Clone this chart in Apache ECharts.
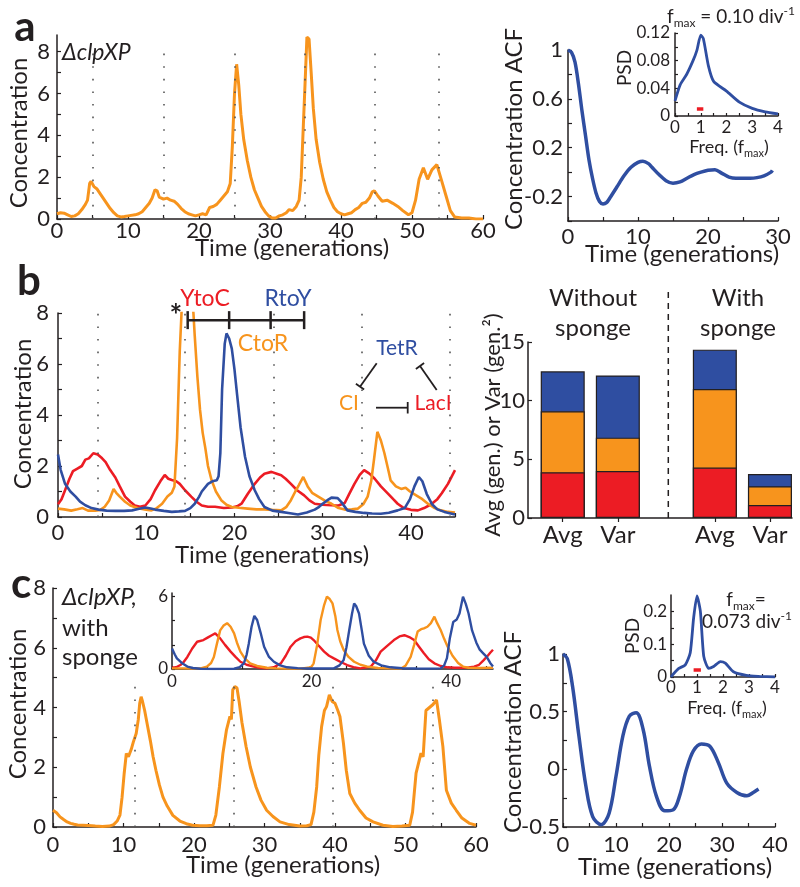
<!DOCTYPE html>
<html>
<head>
<meta charset="utf-8">
<script src="https://cdn.jsdelivr.net/npm/echarts@6/dist/echarts.min.js"></script>
<style>
  html, body { margin: 0; padding: 0; background: #fff; }
  #chart { width: 800px; height: 887px; }
</style>
</head>
<body>
<div id="chart"></div>
<script>
// ---- panel a: single clpXP trace, its ACF and PSD ----
const aTrace = [[0,0.25],[0.5,0.3],[1,0.28],[1.5,0.2],[2,0.12],[2.5,0.15],[3,0.25],[3.5,0.45],[4,0.7],[4.3,0.9],[4.6,1.7],[4.8,1.8],[5.2,1.55],[5.6,1.45],[6,1.25],[6.5,1.0],[7,0.75],[7.5,0.5],[8,0.3],[8.5,0.15],[9,0.1],[9.5,0.12],[10,0.15],[11,0.2],[11.5,0.25],[12,0.35],[12.5,0.55],[13,0.75],[13.4,1.0],[13.8,1.4],[14.1,1.35],[14.4,1.05],[15,0.95],[15.5,1.0],[16,0.9],[16.5,0.85],[17,0.7],[17.5,0.5],[18,0.35],[18.5,0.25],[19,0.2],[19.5,0.15],[20,0.2],[20.5,0.25],[21,0.2],[21.5,0.55],[22,0.6],[22.5,0.7],[23,0.9],[23.5,1.1],[24,1.3],[24.4,1.7],[24.7,3.5],[25,6.0],[25.3,7.4],[25.6,6.4],[25.9,5.0],[26.3,3.8],[26.8,2.8],[27.3,2.0],[27.8,1.4],[28.3,1.0],[28.8,0.6],[29.3,0.35],[29.8,0.15],[30.3,0.05],[30.8,0.05],[31.3,0.15],[31.8,0.2],[32.3,0.3],[32.7,0.45],[33.2,0.4],[33.7,0.6],[34.1,0.9],[34.4,2.0],[34.7,4.5],[35,7.0],[35.2,8.7],[35.5,8.6],[35.8,7.0],[36.1,5.3],[36.5,3.8],[37,2.7],[37.5,1.9],[38,1.3],[38.5,0.9],[39,0.55],[39.5,0.35],[40,0.25],[40.5,0.2],[41,0.25],[41.5,0.3],[42,0.45],[42.5,0.55],[43,0.75],[43.5,0.8],[44,1.0],[44.4,1.3],[44.7,1.35],[45.2,1.1],[45.8,0.85],[46.5,0.9],[47.3,0.75],[48,0.6],[48.7,0.4],[49.5,0.2],[50,0.3],[50.5,0.9],[51,1.9],[51.6,2.45],[52.2,1.9],[52.8,2.35],[53.5,2.6],[54.2,1.8],[54.8,1.1],[55.4,0.4],[56,0.1],[57,0.05],[58,0.05],[59,0.0],[60,0.0]];
const aPeakTimes = [5.1, 15.1, 25.1, 34.9, 44.8, 53.7];
const aAcf = [[0,1],[0.5,0.98],[1,0.9],[1.5,0.72],[2,0.5],[2.5,0.3],[3,0.1],[3.5,-0.05],[4,-0.17],[4.5,-0.24],[5,-0.26],[5.5,-0.25],[6,-0.21],[7,-0.12],[8,-0.03],[9,0.04],[10,0.08],[10.7,0.09],[11.5,0.07],[12,0.04],[13,-0.02],[14,-0.07],[15,-0.09],[16,-0.08],[17,-0.05],[18,-0.02],[19,0.0],[20,0.015],[21,0.02],[22,-0.01],[23,-0.04],[24,-0.05],[25,-0.05],[26,-0.05],[27,-0.045],[28,-0.03],[29,0.0],[29.2,0.015]];
const aPsd = [[0,0.022],[0.2,0.045],[0.45,0.06],[0.7,0.08],[0.85,0.095],[1.0,0.117],[1.1,0.112],[1.3,0.072],[1.5,0.05],[2.0,0.036],[2.5,0.02],[3.0,0.011],[3.5,0.006],[4.0,0.003]];
const aBand = [[0.85,0.01],[1.1,0.01]];

// ---- panel b: three repressors, and the bar summary ----
const bLacI = [[0,0.5],[0.4,0.7],[0.8,1.05],[1.3,1.5],[1.7,1.8],[2.2,1.9],[2.7,2.0],[3.1,2.25],[3.5,2.3],[4,2.5],[4.5,2.45],[5,2.3],[5.4,2.15],[5.9,1.85],[6.5,1.55],[7,1.2],[7.6,0.8],[8.2,0.6],[8.7,0.45],[9.3,0.4],[9.9,0.45],[10.5,0.7],[11,1.05],[11.6,1.4],[12.1,1.65],[12.5,1.5],[12.9,1.45],[13.4,1.4],[13.8,1.3],[14.4,1.05],[15.1,0.8],[15.7,0.6],[16.3,0.45],[17,0.4],[17.8,0.4],[18.8,0.35],[19.7,0.37],[20.3,0.42],[20.8,0.52],[21.5,0.9],[22.3,1.3],[22.9,1.55],[23.4,1.7],[24.2,1.77],[24.8,1.7],[25.3,1.64],[25.8,1.5],[26.4,1.3],[27.1,1.05],[27.9,0.85],[28.5,0.65],[29.1,0.52],[30,0.48],[31,0.46],[31.8,0.45],[32.5,0.55],[33,0.9],[33.6,1.3],[34.2,1.65],[34.7,1.84],[35.3,1.7],[35.9,1.5],[36.6,1.2],[37.4,0.92],[38,0.7],[38.5,0.52],[39.2,0.35],[40,0.28],[40.8,0.26],[41.5,0.35],[42.3,0.5],[43,0.7],[43.5,0.93],[44.2,1.3],[45,1.84]];
const bCI = [[0,0.33],[0.7,0.3],[1.5,0.25],[2.2,0.3],[2.8,0.35],[3.4,0.25],[4.2,0.25],[4.8,0.28],[5.3,0.4],[5.8,0.65],[6.3,1.1],[6.6,0.95],[7,0.8],[7.6,0.6],[8.2,0.45],[9,0.35],[9.8,0.3],[10.6,0.26],[11.2,0.35],[11.8,0.52],[12.4,0.8],[12.9,0.95],[13.2,1.2],[13.5,3.1],[13.8,6.5],[14.0,8.0],[14.3,9.8],[14.7,10.3],[15.1,9.2],[15.35,8.0],[15.5,7.1],[15.8,5.5],[16.1,4.2],[16.4,3.3],[16.7,2.7],[17,2.0],[17.4,1.45],[17.9,1.0],[18.5,0.66],[19.1,0.48],[19.7,0.39],[20.5,0.36],[21.5,0.33],[22.5,0.3],[23.4,0.3],[24.3,0.28],[25.3,0.26],[25.9,0.4],[26.4,0.66],[26.9,1.0],[27.3,1.25],[27.8,1.57],[28.3,1.2],[28.8,0.95],[29.5,0.8],[30.2,0.65],[31,0.52],[31.8,0.35],[32.5,0.29],[33.3,0.3],[34,0.33],[34.6,0.5],[35.1,0.8],[35.5,1.4],[35.8,2.2],[36.2,3.34],[36.6,3.0],[37,2.5],[37.4,1.9],[37.7,1.44],[38.3,1.2],[38.9,1.1],[39.4,1.15],[39.9,1.0],[40.6,0.85],[41.3,0.7],[42,0.5],[42.7,0.35],[43.4,0.26],[44.2,0.2],[45,0.17]];
const bTetR = [[0,2.45],[0.3,1.85],[0.8,1.3],[1.4,1.0],[2,0.8],[2.5,0.6],[3.1,0.46],[3.8,0.35],[4.6,0.29],[5.5,0.25],[6.5,0.24],[7.5,0.24],[8.4,0.26],[9.2,0.32],[9.9,0.37],[10.5,0.33],[11,0.29],[12,0.24],[12.9,0.2],[13.7,0.22],[14.4,0.24],[15,0.35],[15.5,0.52],[16,0.8],[16.3,1.0],[17,1.3],[17.5,1.4],[18,1.44],[18.2,1.6],[18.4,2.5],[18.6,5.0],[18.9,6.8],[19.1,7.2],[19.4,7.0],[19.7,6.6],[20,5.8],[20.3,4.8],[20.7,3.5],[21.2,2.36],[21.7,1.6],[22.3,1.05],[22.8,0.7],[23.4,0.39],[24.3,0.25],[25.3,0.2],[26.3,0.15],[27.2,0.1],[28.2,0.18],[29.1,0.29],[29.6,0.4],[30,0.52],[30.5,0.65],[31,0.76],[31.7,0.74],[32.2,0.55],[32.8,0.26],[33.7,0.2],[34.7,0.16],[35.6,0.14],[36.6,0.13],[37.5,0.17],[38.5,0.26],[39.3,0.35],[39.9,0.7],[40.4,1.2],[40.9,1.57],[41.3,1.4],[41.8,0.9],[42.4,0.5],[43,0.3],[43.8,0.2],[45,0.1]];
const bPeakTimes = [4.5, 14.4, 24.4, 34.4, 44.4];
const bSpanTimes = [14.7, 19.4, 24.1, 27.9];
const bSpanLevel = 7.72;

const barLabels = ['Avg', 'Var', 'Avg', 'Var'];
const barLacI = [3.9, 4.0, 4.3, 1.1];
const barCI = [5.2, 2.85, 6.7, 1.6];
const barTetR = [3.4, 5.3, 3.35, 1.05];

// ---- panel c: clpXP with sponge ----
const cTrace = [[0,0.56],[0.5,0.48],[1,0.34],[1.5,0.25],[2,0.17],[2.5,0.12],[3,0.09],[3.5,0.07],[4.3,0.06],[5,0.05],[6,0.03],[7,0.02],[8,0.03],[8.6,0.08],[9.1,0.2],[9.5,0.4],[9.8,1.0],[10.1,1.8],[10.4,2.46],[10.7,2.35],[10.9,2.3],[11.1,2.6],[11.4,2.85],[11.8,3.13],[12.1,3.6],[12.3,4.14],[12.5,4.36],[12.7,4.2],[13,3.9],[13.4,3.4],[13.8,2.9],[14.2,2.35],[14.6,1.9],[15.1,1.4],[15.6,1.0],[16.2,0.7],[17,0.39],[18,0.2],[18.9,0.11],[19.8,0.06],[20.8,0.04],[21.8,0.04],[22.7,0.06],[23.1,0.4],[23.6,1.34],[24.1,2.46],[24.6,3.24],[25.1,3.7],[25.3,3.6],[25.5,4.59],[25.8,4.7],[26.1,4.65],[26.4,4.2],[26.8,3.5],[27.4,2.68],[28,2.0],[28.8,1.34],[29.5,0.9],[30.3,0.56],[31.2,0.35],[32.2,0.17],[33.5,0.08],[35,0.03],[36,0.04],[36.6,0.08],[37,0.5],[37.4,1.34],[37.7,2.4],[38.1,3.36],[38.5,3.9],[38.8,4.03],[39.2,4.42],[39.6,4.2],[40,4.14],[40.4,3.9],[40.7,3.7],[41.2,2.8],[41.6,1.9],[42.1,1.12],[42.8,0.8],[43.5,0.56],[44.4,0.3],[45.4,0.17],[46.8,0.06],[48.2,0.02],[49.5,0.03],[50.6,0.06],[51,0.5],[51.5,1.8],[52.2,2.47],[52.5,2.35],[52.9,3.9],[53.4,4.0],[53.9,4.1],[54.4,4.25],[54.8,3.6],[55.3,2.7],[55.8,1.23],[56.5,0.8],[57.2,0.56],[58,0.3],[59.1,0.12],[60,0.06]];
const cPeakTimes = [11.6, 25.7, 39.7, 53.9];
const cInLacI = [[0,0.1],[0.6,0.15],[1.2,0.33],[1.7,0.6],[2.2,1.0],[2.9,1.7],[3.6,2.26],[4.5,2.4],[5.1,2.6],[5.7,2.8],[6.2,2.95],[6.9,2.54],[7.6,2.0],[8.4,1.44],[9.1,1.0],[9.8,0.6],[10.7,0.35],[11.7,0.2],[12.6,0.1],[13.6,0.05],[14.6,0.15],[15.6,0.47],[16.3,1.1],[17,1.85],[17.7,2.3],[18.4,2.54],[18.9,2.65],[19.4,2.68],[19.9,2.6],[20.3,2.4],[21,1.95],[21.8,1.44],[22.5,1.1],[23.2,0.88],[24.1,0.6],[25.1,0.33],[26,0.15],[27,0.05],[28.5,0.2],[29.2,0.7],[29.9,1.44],[30.8,1.9],[31.8,2.4],[32.6,2.7],[33.3,2.8],[34,2.65],[34.7,2.4],[35.4,1.85],[36.1,1.3],[36.8,0.8],[37.6,0.47],[38.5,0.25],[39.5,0.14],[40.5,0.1],[41.5,0.1],[42.5,0.12],[43.3,0.2],[44,0.35],[44.6,0.7],[45.1,1.0],[45.6,1.35],[46,1.6]];
const cInCI = [[0,0.05],[1.5,0.05],[3,0.04],[4.1,0.05],[5,0.2],[5.6,0.5],[6,1.0],[6.4,2.0],[6.9,3.2],[7.4,3.6],[7.9,3.8],[8.4,3.5],[8.9,2.95],[9.3,2.2],[9.8,1.44],[10.4,0.9],[11.2,0.47],[12.2,0.25],[13.6,0.1],[15,0.05],[16.5,0.03],[18.4,0.03],[19.5,0.1],[20,0.2],[20.3,0.47],[20.8,2.0],[21.3,4.06],[21.8,5.3],[22.2,6.0],[22.6,5.8],[23,5.44],[23.4,4.4],[23.7,3.23],[24.1,2.3],[24.6,1.57],[25.3,1.0],[26.1,0.6],[27,0.35],[28,0.2],[29.5,0.08],[31,0.05],[32.8,0.03],[33.5,0.3],[34.2,1.0],[34.7,2.0],[35.2,3.1],[35.7,3.3],[36.1,3.37],[36.6,3.5],[37.1,3.8],[37.6,4.34],[38,3.8],[38.5,3.23],[39,2.5],[39.5,1.85],[40.2,1.1],[41,0.5],[41.7,0.2],[42.5,0.1],[44,0.08],[46,0.1]];
const cInTetR = [[0,1.7],[0.4,1.2],[0.7,0.88],[1.4,0.5],[2.2,0.2],[3,0.08],[4.1,0.02],[6,0],[8.9,0.02],[9.7,0.15],[10.3,0.47],[10.7,1.2],[11,2.1],[11.4,3.5],[11.8,4.4],[12.2,4.06],[12.7,3.0],[13.2,1.85],[13.9,1.0],[14.6,0.6],[15.5,0.3],[16.5,0.14],[18,0.07],[20,0.04],[23.2,0.05],[24,0.3],[24.6,0.75],[25,1.8],[25.4,3.23],[25.8,4.6],[26.1,5.44],[26.4,5.2],[26.8,4.6],[27.2,3.2],[27.5,2.1],[28.2,1.1],[28.9,0.6],[30,0.3],[31.3,0.14],[33,0.06],[35,0.04],[37,0.03],[38.5,0.05],[39,0.3],[39.4,0.9],[39.8,2.5],[40.3,3.9],[40.8,4.1],[41.2,4.6],[41.7,6.0],[42.1,5.4],[42.5,4.6],[43,3.2],[43.6,2.2],[44.1,1.6],[44.6,1.3],[45.1,1.0],[45.6,0.5],[46,0.2]];
const cAcf = [[0,1.0],[0.8,0.96],[1.8,0.72],[3,0.29],[4.3,-0.14],[5.6,-0.41],[7.2,-0.48],[8.7,-0.38],[10,-0.06],[11.3,0.29],[12.5,0.46],[13.8,0.49],[15.1,0.35],[16.3,0.03],[17.6,-0.23],[19.2,-0.36],[20.8,-0.35],[22,-0.23],[23.3,0.0],[24.6,0.16],[26.1,0.22],[27.7,0.2],[29.3,0.06],[30.9,-0.12],[32.8,-0.2],[34.7,-0.23],[35.9,-0.2],[36.9,-0.17]];
const cPsd = [[0,0],[0.1,0.01],[0.3,0.026],[0.55,0.037],[0.74,0.074],[0.87,0.18],[1.0,0.247],[1.13,0.2],[1.26,0.063],[1.45,0.026],[1.64,0.032],[1.9,0.047],[2.09,0.042],[2.4,0.016],[2.9,0.005],[3.4,0.002],[4,0]];
const cBand = [[0.87,0.021],[1.15,0.021]];

// tick labels
const concLabels = [0, 2, 4, 6, 8];
const timeLabels60 = [0, 10, 20, 30, 40, 50, 60];
const aAcfLabels = [-0.2, 0.2, 0.6, 1];
const aPsdLabels = [0, 0.04, 0.08, 0.12];
const freqLabels = [0, 1, 2, 3, 4];
const barYLabels = [0, 5, 10, 15];
const cAcfLabels = [-0.5, 0, 0.5, 1];
const cPsdLabels = [0, 0.1, 0.2];

const FONT = 'Lato, "Open Sans", sans-serif';
const INK = '#231f20';
const ORANGE = '#f7941d';
const RED = '#ec1c24';
const BLUE = '#2f4ea1';

// horizontal slots of the four bars on the bar panel's x axis
const barSlots = [0.63, 1.63, 3.39, 4.39];

function steps(a, b, s) {
  const out = [];
  for (let v = a; v <= b + 1e-9; v += s) out.push(+v.toFixed(4));
  return out;
}

function axis(gridIndex, min, max, ticks, labels, o = {}) {
  return {
    type: 'value', gridIndex, min, max,
    axisLine: {show: true, onZero: false, lineStyle: {color: INK, width: 1.5}},
    axisTick: {show: true, inside: !o.outTicks, length: o.tl || 4, customValues: ticks,
      lineStyle: {color: INK, width: 1.2}},
    axisLabel: {show: true, customValues: labels, fontSize: o.fs || 22, fontFamily: FONT,
      color: INK, margin: o.margin == null ? 4 : o.margin,
      formatter: o.fmt || (v => String(+(+v).toFixed(3)))},
    splitLine: {show: false}
  };
}

function line(idx, data, color, width, extra) {
  return Object.assign({
    type: 'line', xAxisIndex: idx, yAxisIndex: idx, data,
    symbol: 'none', showSymbol: false, silent: true,
    lineStyle: {color, width}
  }, extra || {});
}

function dotted(times, top) {
  return {
    silent: true, symbol: ['none', 'none'], label: {show: false},
    lineStyle: {color: '#555', width: 1.6, type: [1.6, 11]},
    emphasis: {disabled: true},
    data: times.map(t => [{coord: [t, 0]}, {coord: [t, top]}])
  };
}

// stacked bar drawn as overlapping cumulative bars (top segment first)
function barLayer(values, color) {
  return {
    type: 'bar', xAxisIndex: 4, yAxisIndex: 4, barWidth: 44, barGap: '-100%', silent: true,
    data: barSlots.map((x, i) => [x, values[i]]),
    itemStyle: {color, borderColor: INK, borderWidth: 1.2}
  };
}

function T(x, y, text, o = {}) {
  return {
    type: 'text', x, y, rotation: o.rot || 0, silent: true, z: 100,
    style: {
      text, fill: o.color || INK, fontSize: o.size || 24, fontFamily: FONT,
      fontWeight: o.weight || 'normal', fontStyle: o.italic ? 'italic' : 'normal',
      align: o.align || 'center', verticalAlign: 'middle',
      textAlign: o.align || 'center', textVerticalAlign: 'middle',
      rich: o.rich
    }
  };
}

function L(x1, y1, x2, y2, w, dash) {
  return {type: 'line', silent: true, z: 100, shape: {x1, y1, x2, y2},
    style: {stroke: INK, lineWidth: w || 2, lineDash: dash || null}};
}

function richSub(size) {
  const base = {fontFamily: FONT, fill: INK, color: INK};
  return {
    m: Object.assign({fontSize: size, lineHeight: size + 5}, base),
    s: Object.assign({fontSize: Math.round(size * 0.62), lineHeight: Math.round(size * 0.62), verticalAlign: 'bottom'}, base),
    p: Object.assign({fontSize: Math.round(size * 0.62), lineHeight: Math.round(size * 0.62), verticalAlign: 'top'}, base)
  };
}

const cumCI = barLacI.map((v, i) => v + barCI[i]);
const cumAll = cumCI.map((v, i) => v + barTetR[i]);

const chart = echarts.init(document.getElementById('chart'));

const option = {
  animation: false,
  backgroundColor: '#fff',
  textStyle: {fontFamily: FONT},
  grid: [
    {left: 57, top: 35, width: 426, height: 184},    // a trace
    {left: 568, top: 50, width: 210, height: 171},   // a ACF
    {left: 675, top: 33, width: 103, height: 83},    // a PSD inset
    {left: 58, top: 313, width: 397, height: 204},   // b traces
    {left: 528, top: 342, width: 264, height: 176},  // b bars
    {left: 53, top: 588, width: 423, height: 239},   // c trace
    {left: 172, top: 593, width: 321, height: 76},   // c inset
    {left: 563, top: 654, width: 212, height: 173},  // c ACF
    {left: 671, top: 595, width: 104, height: 82}    // c PSD inset
  ],
  xAxis: [
    axis(0, 0, 60, steps(0, 60, 5), timeLabels60, {margin: 1}),
    axis(1, 0, 30, steps(0, 30, 5), [0, 10, 20, 30], {margin: 5}),
    axis(2, 0, 4, steps(0, 4, 0.5), freqLabels, {fs: 17, margin: 3, tl: 3}),
    axis(3, 0, 45, steps(0, 45, 5), [0, 10, 20, 30, 40], {margin: 5}),
    axis(4, 0, 4.79, barSlots, barSlots, {fs: 24, margin: 5, outTicks: true,
      fmt: v => barLabels[barSlots.findIndex(s => Math.abs(s - v) < 1e-6)] || ''}),
    axis(5, 0, 60, steps(0, 60, 5), timeLabels60, {margin: 7}),
    axis(6, 0, 46, steps(0, 45, 5), [0, 20, 40], {fs: 17, margin: 4, tl: 3}),
    axis(7, 0, 40, steps(0, 40, 5), [0, 10, 20, 30, 40], {margin: 7}),
    axis(8, 0, 4, steps(0, 4, 0.5), freqLabels, {fs: 17, margin: 2, tl: 3})
  ],
  yAxis: [
    axis(0, 0, 8.8, steps(0, 8, 1), concLabels, {margin: 7}),
    axis(1, -0.4, 1, steps(-0.4, 1, 0.2), aAcfLabels, {margin: 5}),
    axis(2, 0, 0.12, steps(0, 0.12, 0.02), aPsdLabels, {fs: 17, margin: 5, tl: 3}),
    axis(3, 0, 8, steps(0, 8, 1), concLabels, {margin: 9}),
    axis(4, 0, 15, barYLabels, barYLabels, {margin: 3}),
    axis(5, 0, 8, steps(0, 8, 1), concLabels, {margin: 7}),
    axis(6, 0, 6.3, [0, 2, 4, 6], [0, 6], {fs: 17, margin: 4, tl: 3}),
    axis(7, -0.5, 1, steps(-0.5, 1, 0.25), cAcfLabels, {margin: 3}),
    axis(8, 0, 0.25, steps(0, 0.2, 0.05), cPsdLabels, {fs: 17, margin: 4, tl: 3})
  ],
  series: [
    // a
    line(0, aTrace, ORANGE, 3, {markLine: dotted(aPeakTimes, 8.25), z: 3}),
    line(1, aAcf, BLUE, 3.5, {smooth: 0.3}),
    line(2, aPsd, BLUE, 2.8, {smooth: 0.2}),
    line(2, aBand, RED, 3.5),
    // b
    line(3, bLacI, RED, 2.6, {markLine: dotted(bPeakTimes, 8)}),
    line(3, bCI, ORANGE, 2.6),
    line(3, bTetR, BLUE, 2.6),
    line(3, [[bSpanTimes[0], bSpanLevel], [bSpanTimes[bSpanTimes.length - 1], bSpanLevel]], INK, 2.5, {clip: false}),
    {
      type: 'custom', xAxisIndex: 3, yAxisIndex: 3, clip: false, silent: true, z: 5,
      data: bSpanTimes.map(t => [t, bSpanLevel]),
      renderItem: (params, api) => {
        const p = api.coord([api.value(0), api.value(1)]);
        return {type: 'line', shape: {x1: p[0], y1: p[1] - 9, x2: p[0], y2: p[1] + 9},
          style: {stroke: INK, lineWidth: 2.5}};
      }
    },
    barLayer(cumAll, BLUE),
    barLayer(cumCI, ORANGE),
    barLayer(barLacI, RED),
    // c
    line(5, cTrace, ORANGE, 3, {markLine: dotted(cPeakTimes, 4.9)}),
    line(6, cInLacI, RED, 2.4),
    line(6, cInCI, ORANGE, 2.4),
    line(6, cInTetR, BLUE, 2.4),
    line(7, cAcf, BLUE, 3.5, {smooth: 0.35}),
    line(8, cPsd, BLUE, 2.8, {smooth: 0.2}),
    line(8, cBand, RED, 3.5)
  ],
  graphic: [
    // panel letters
    T(25, 27, 'a', {size: 42, weight: 'bold'}),
    T(29, 281, 'b', {size: 42, weight: 'bold'}),
    T(21, 584, 'c', {size: 42, weight: 'bold'}),
    // a
    T(62, 53, 'ΔclpXP', {size: 23, italic: true, align: 'left'}),
    T(19, 133, 'Concentration', {rot: Math.PI / 2}),
    T(292, 248, 'Time (generations)'),
    T(514, 129, 'Concentration ACF', {rot: Math.PI / 2}),
    T(682, 254, 'Time (generations)'),
    T(625, 68, 'PSD', {size: 19, rot: Math.PI / 2}),
    T(729, 147, '{m|Freq. (f}{s|max}{m|)}', {rich: richSub(18)}),
    T(731, 17, '{m|f}{s|max}{m| = 0.10 div}{p|-1}', {rich: richSub(19)}),
    // b
    T(23, 414, 'Concentration', {rot: Math.PI / 2}),
    T(272, 555, 'Time (generations)'),
    T(176, 316, '*', {size: 30, weight: 'bold'}),
    T(205, 299, 'YtoC', {size: 23, color: RED}),
    T(288, 299, 'RtoY', {size: 23, color: BLUE}),
    T(263, 344, 'CtoR', {size: 23, color: ORANGE}),
    T(397, 348, 'TetR', {size: 21, color: BLUE}),
    T(349, 403, 'CI', {size: 21, color: ORANGE}),
    T(433, 403, 'LacI', {size: 21, color: RED}),
    L(376.7, 363.3, 360, 386.7, 1.8),
    L(355.9, 383.8, 364.1, 389.6, 1.8),
    L(436.7, 390, 420, 366, 1.8),
    L(415.9, 368.9, 424.1, 363.1, 1.8),
    L(376, 407.7, 407.7, 407.7, 1.8),
    L(407.7, 402, 407.7, 413.5, 1.8),
    T(493, 425, 'Avg (gen.) or Var (gen.²)', {size: 22, rot: Math.PI / 2}),
    T(593, 298, 'Without'),
    T(593, 328, 'sponge'),
    T(738, 298, 'With'),
    T(738, 328, 'sponge'),
    L(668.3, 292, 668.3, 518, 1.5, [6, 5]),
    // c
    T(62, 597, 'ΔclpXP,', {size: 24, italic: true, align: 'left'}),
    T(62, 628, 'with', {size: 24, align: 'left'}),
    T(62, 657, 'sponge', {size: 24, align: 'left'}),
    T(18, 704, 'Concentration', {rot: Math.PI / 2}),
    T(283, 865, 'Time (generations)'),
    T(513, 732, 'Concentration ACF', {rot: Math.PI / 2}),
    T(675, 867, 'Time (generations)'),
    T(633, 636, 'PSD', {size: 19, rot: Math.PI / 2}),
    T(727, 708, '{m|Freq. (f}{s|max}{m|)}', {rich: richSub(18)}),
    T(746, 600, '{m|f}{s|max}{m|=}', {rich: richSub(19)}),
    T(747, 622, '{m|0.073 div}{p|-1}', {rich: richSub(19)})
  ]
};

chart.setOption(option);
</script>
</body>
</html>
